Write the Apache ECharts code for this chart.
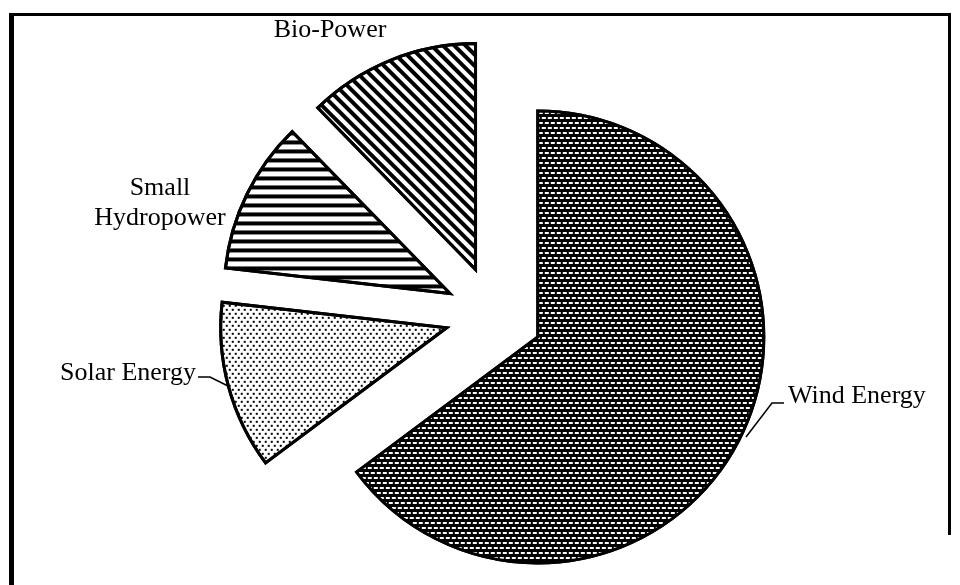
<!DOCTYPE html>
<html>
<head>
<meta charset="utf-8">
<script src="https://cdn.jsdelivr.net/npm/echarts@6/dist/echarts.min.js"></script>
<style>
html,body{margin:0;padding:0;background:#fff;}
#main{width:960px;height:585px;}
</style>
</head>
<body>
<div id="main"></div>
<script>
// 数据
var categories = ['Wind Energy', 'Solar Energy', 'Small\nHydropower', 'Bio-Power'];
var shares = [64.8, 12.0, 10.9, 12.3];

// 填充图案 (decal)
var decals = [
	{symbol: 'rect', symbolSize: 1, color: '#fff', dashArrayX: [[4, 2], [1, 2, 3, 0]], dashArrayY: [2, 3]},
	{symbol: 'rect', symbolSize: 1, color: '#000', dashArrayX: [[1.5, 3.5], [0, 2.5, 1.5, 1]], dashArrayY: [1.5, 1.5]},
	{symbol: 'rect', symbolSize: 1, color: '#000', dashArrayX: [1, 0], dashArrayY: [3.5, 5]},
	{symbol: 'rect', symbolSize: 1, color: '#000', dashArrayX: [1, 0], dashArrayY: [3.5, 3.5], rotation: Math.PI / 4}
];
var fills = ['#000', '#fff', '#fff', '#fff'];

// 标签位置 (文字 + 引导线)
var labelSpots = [
	{x: 788, y: 396, align: 'left', line: [[746, 437], [772, 403], [784, 403]]},
	{x: 196, y: 373, align: 'right', line: [[228, 386], [210, 377], [198, 377]]},
	{x: 160, y: 203, align: 'center', line: null},
	{x: 330, y: 30, align: 'center', line: null}
];
var labelFont = '26px "Liberation Serif", "Times New Roman", serif';

var myChart = echarts.init(document.getElementById('main'));

var graphics = [
	{type: 'rect', shape: {x: 9, y: 13, width: 5, height: 572}, style: {fill: '#000'}},
	{type: 'rect', shape: {x: 9, y: 13, width: 942, height: 3}, style: {fill: '#000'}},
	{type: 'rect', shape: {x: 948, y: 13, width: 3, height: 522}, style: {fill: '#000'}}
];
for(var i = 0; i < categories.length; i++){
	var s = labelSpots[i];
	graphics.push({
		type: 'text',
		z: 10,
		style: {
			text: categories[i],
			x: s.x,
			y: s.y,
			textAlign: s.align,
			textVerticalAlign: 'middle',
			font: labelFont,
			lineHeight: 30,
			fill: '#000'
		}
	});
	if(s.line){
		graphics.push({
			type: 'polyline',
			z: 10,
			shape: {points: s.line},
			style: {stroke: '#000', lineWidth: 1.5, fill: null}
		});
	}
}

var option = {
	backgroundColor: '#fff',
	animation: false,
	graphic: graphics,
	series: [
		{
			type: 'pie',
			center: [494, 315],
			radius: [0, 226],
			startAngle: 90,
			clockwise: true,
			selectedMode: 'multiple',
			selectedOffset: 49,
			itemStyle: {
				borderColor: '#000',
				borderWidth: 3,
				borderJoin: 'miter'
			},
			emphasis: {disabled: true},
			label: {show: false},
			labelLine: {show: false},
			data: (function(){
				var res = [];
				for(var i = 0; i < categories.length; i++){
					res.push({
						name: categories[i],
						value: shares[i],
						selected: true,
						itemStyle: {color: fills[i], decal: decals[i]}
					});
				}
				return res;
			})()
		}
	]
};

myChart.setOption(option);
</script>
</body>
</html>
